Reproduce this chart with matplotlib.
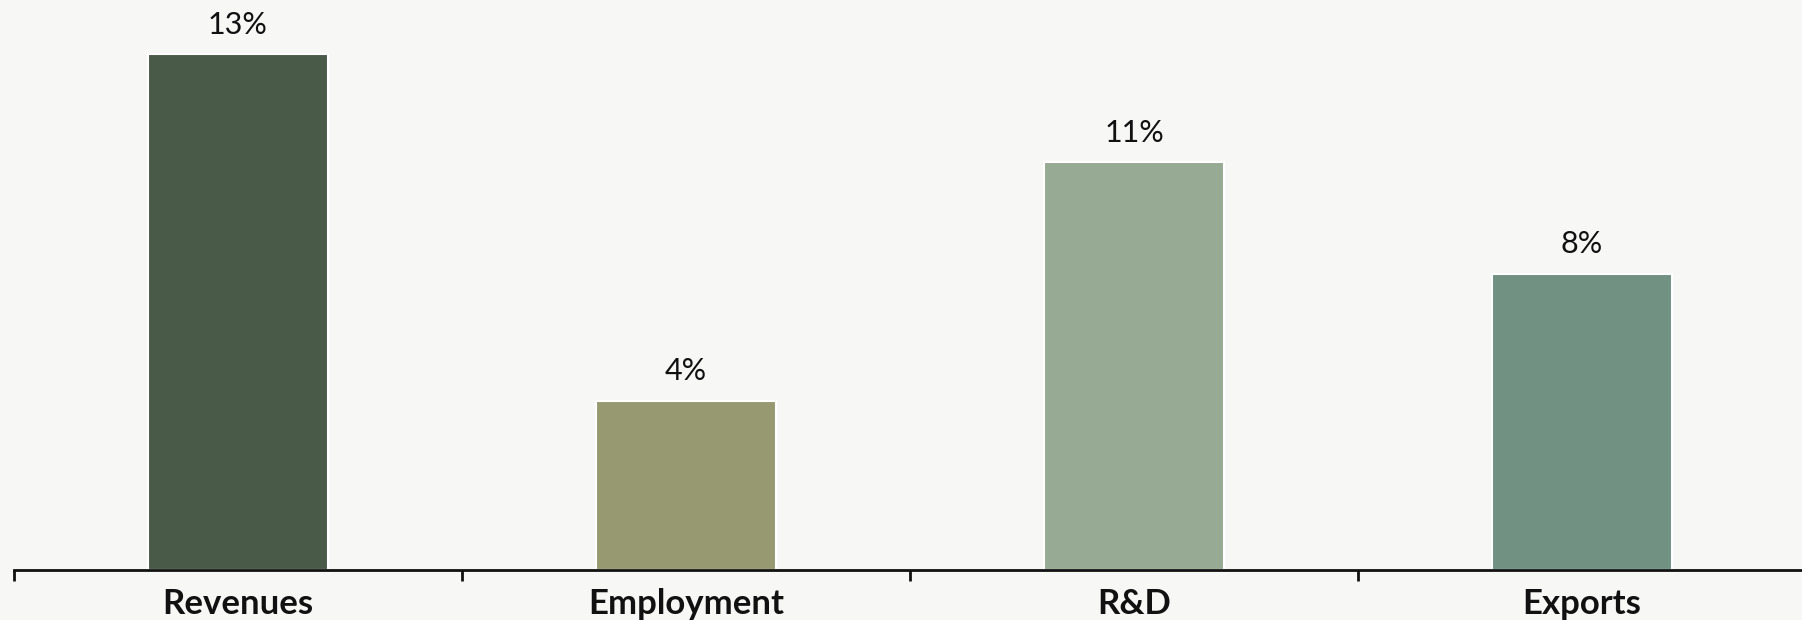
import matplotlib
matplotlib.use("Agg")
import matplotlib.pyplot as plt
import numpy as np

categories = ["Revenues", "Employment", "R&D", "Exports"]
values = [13.4, 4.4, 10.6, 7.7]
colors = ["#4a5a48", "#979a70", "#97aa93", "#719183"]

W, H = 1802, 620
fig = plt.figure(figsize=(W / 100, H / 100), dpi=100)
fig.patch.set_facecolor("#f7f7f6")
ax = fig.add_axes([14 / W, 1 - 570 / H, 1792 / W, 570 / H])
ax.set_facecolor("none")

x = np.arange(len(categories))
bars = ax.bar(x, values, width=0.4, color=colors, edgecolor="white", linewidth=1.5, zorder=2)
for xi, v in zip(x, values):
    ax.annotate(f"{v:.0f}%", (xi, v), xytext=(0, 11), textcoords="offset points",
                ha="center", va="bottom", fontsize=22, family="Lato", color="#111111")

ax.set_xlim(-0.5, len(categories) - 0.5)
ax.set_ylim(0, 570 / 38.5)
for s in ["top", "right", "left"]:
    ax.spines[s].set_visible(False)
ax.spines["bottom"].set_linewidth(2)
ax.spines["bottom"].set_color("#111111")
ax.set_yticks([])
ax.set_xticks(np.arange(-0.5, len(categories)), labels=[""] * (len(categories) + 1))
ax.tick_params(axis="x", which="major", direction="out", length=8, width=2, color="#111111")
ax.set_xticks(x, labels=categories, minor=True)
ax.tick_params(axis="x", which="minor", length=0, pad=13, labelsize=25)
for lab in ax.get_xticklabels(minor=True):
    lab.set_fontweight("bold")
    lab.set_family("Lato")
    lab.set_color("#111111")

fig.savefig("out.png", dpi=100, facecolor=fig.get_facecolor())
